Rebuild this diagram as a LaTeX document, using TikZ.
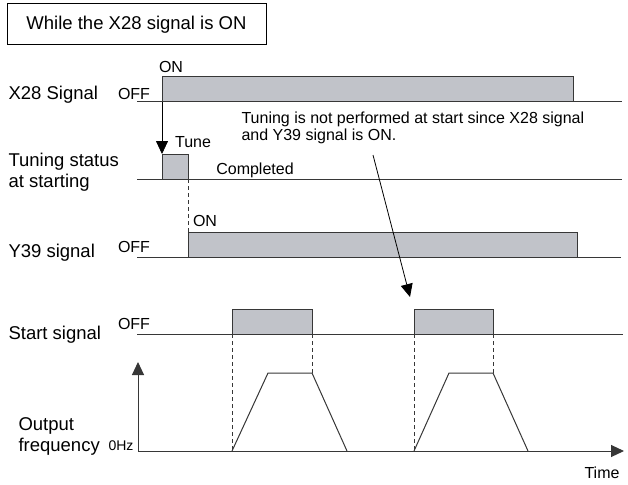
\documentclass[tikz,border=0pt]{standalone}
\usepackage{fontspec}
\setmainfont{Liberation Sans}
\usetikzlibrary{arrows.meta}
\definecolor{sigfill}{RGB}{193,195,201}
\definecolor{sigline}{RGB}{55,55,55}
\tikzset{
  pulse/.style={draw=sigline, fill=sigfill, line width=1pt},
  base/.style={draw=sigline, line width=1pt},
  guide/.style={draw=sigline, dash pattern=on 4pt off 3pt, line width=0.7pt},
  lbl/.style={font=\fontsize{18.5}{21}\selectfont, anchor=west, align=left},
  small/.style={font=\fontsize{16}{17}\selectfont},
  bigtip/.style={-{Triangle[width=12pt,length=13pt]}}
}

\begin{document}
\begin{tikzpicture}[x=1pt,y=-1pt]
    \useasboundingbox (0,0) rectangle (628,484);
    % Title
    \node[draw, line width=1pt, minimum width=259, minimum height=41, font=\fontsize{18.5}{21}\selectfont] (title) at (136.5,24.5) {While the X28 signal is ON};
    % X28 signal
    \node[lbl] (x28lbl) at (5,95) {X28 Signal};
    \draw[base] (137,102) -- (622,102);
    \draw[pulse] (162,102) rectangle (573,77);
    \node[small] (x28on) at (171,67) {ON};
    \node[small] (x28off) at (134,94) {OFF};
    % Tune arrow
    \coordinate (x28rise) at (162,102);
    \coordinate (tunetop) at (162,154);
    \draw[line width=0.8pt, bigtip] (x28rise) -- (tunetop);
    \node[small] (tune) at (193,142) {Tune};
    % Tuning status
    \node[lbl] (tunelbl) at (5,172) {Tuning status\\at starting};
    \draw[base] (137,179) -- (622,179);
    \draw[pulse] (162,179) rectangle (188,154);
    \node[small] (done) at (255,170) {Completed};
    % Tune end to Y39
    \draw[guide] (188,179) -- (188,257);
    % Y39 signal
    \node[lbl] (y39lbl) at (5,253) {Y39 signal};
    \draw[base] (137,257) -- (621,257);
    \draw[pulse] (188,257) rectangle (577,232);
    \node[small] (y39on) at (205,221) {ON};
    \node[small] (y39off) at (134,247) {OFF};
    % Note
    \node[font=\fontsize{16}{17}\selectfont, anchor=west, align=left] (note) at (238,128) {Tuning is not performed at start since X28 signal\\and Y39 signal is ON.};
    \coordinate (notefoot) at (373,155);
    \coordinate (start2) at (410,297);
    \draw[line width=0.8pt, bigtip] (notefoot) -- (start2);
    % Start signal
    \node[lbl] (stalbl) at (5,335) {Start signal};
    \draw[base] (137,334) -- (623,334);
    \draw[pulse] (232,334) rectangle (312,309);
    \draw[pulse] (414,334) rectangle (493,309);
    \node[small] (staoff) at (134,324) {OFF};
    % Output frequency
    \node[lbl] (freqlbl) at (15,436) {Output\\frequency};
    \node[font=\fontsize{14}{16}\selectfont, anchor=east] (zero) at (137,446) {0Hz};
    \coordinate (origin) at (138,451);
    \coordinate (ftop) at (138,362);
    \coordinate (tend) at (624,451);
    \draw[base, bigtip] (origin) -- (ftop);
    \draw[base, bigtip] (origin) -- (tend);
    \draw[base] (232,451) -- (268,373) -- (312,373) -- (347,451);
    \draw[base] (414,451) -- (449,373) -- (493,373) -- (528,451);
    \draw[guide] (232,334) -- (232,451);
    \draw[guide] (312,334) -- (312,373);
    \draw[guide] (414,334) -- (414,451);
    \draw[guide] (493,334) -- (493,373);
    \node[small] (time) at (602,473) {Time};
\end{tikzpicture}
\end{document}
